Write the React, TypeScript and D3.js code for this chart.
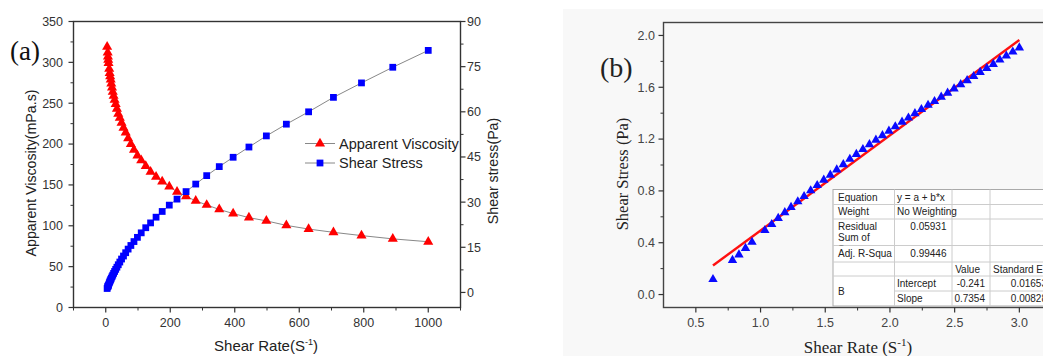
import React from "react";
import * as d3 from "d3";

// ---------- Data ----------
const shearRate = [
  4.29, 6.07, 6.81, 7.65, 8.59,
  10.8, 12.2, 13.7, 15.4, 17.2, 19.4, 21.7, 24.4, 27.4, 30.8,
  34.6, 38.8, 43.6, 49.0, 55.0, 61.8, 69.4, 77.9, 87.5, 98.2,
  110, 124, 139, 156, 175, 197, 221, 249, 279, 313,
  352, 395, 444, 498, 560, 629, 706, 793, 890, 1000,
];
const viscosity = [
  319, 312, 307, 303, 299,
  292, 287, 283, 279, 274, 269, 264, 259, 254, 249,
  243, 237, 232, 226, 220, 214, 207, 200, 193, 186,
  180, 173, 166, 160, 154, 148, 141.5, 136, 130.5, 125.5,
  120, 115, 110, 106, 100.5, 96, 92, 88, 84, 80.5,
];
const shearStress = [
  1.31, 1.84, 2.03, 2.28, 2.54,
  3.13, 3.48, 3.88, 4.3, 4.72, 5.22, 5.73, 6.34, 6.97, 7.67,
  8.38, 9.2, 10.1, 11.1, 12.1, 13.2, 14.4, 15.6, 16.9, 18.3,
  19.8, 21.5, 23.1, 25.0, 26.9, 29.0, 31.0, 33.5, 36.0, 38.8,
  41.8, 44.9, 48.3, 52.0, 55.9, 60.0, 64.8, 69.6, 74.8, 80.4,
];
const fitIntercept = -0.241;
const fitSlope = 0.7354;

// tick labels
const aXTicks = [0, 200, 400, 600, 800, 1000];
const aXMinor = [-100, 100, 300, 500, 700, 900, 1100];
const aYLTicks = [0, 50, 100, 150, 200, 250, 300, 350];
const aYLMinor = [25, 75, 125, 175, 225, 275, 325];
const aYRTicks = [0, 15, 30, 45, 60, 75, 90];
const aYRMinor = [7.5, 22.5, 37.5, 52.5, 67.5, 82.5];
const bXTicks = [0.5, 1.0, 1.5, 2.0, 2.5, 3.0];
const bXMinor = [0.75, 1.25, 1.75, 2.25, 2.75];
const bYTicks = [0.0, 0.4, 0.8, 1.2, 1.6, 2.0];
const bYMinor = [0.2, 0.6, 1.0, 1.4, 1.8];

const legendItems = ["Apparent Viscosity", "Shear Stress"];

const tableRows = [
  ["Equation", "y = a + b*x", "", ""],
  ["Weight", "No Weighting", "", ""],
  ["Residual|Sum of|Squares", "0.05931", "", ""],
  ["Adj. R-Squa", "0.99446", "", ""],
  ["", "", "Value", "Standard Err"],
  ["B", "Intercept", "-0.241", "0.01653"],
  ["", "Slope", "0.7354", "0.00828"],
];

const SANS = "Arial, 'Liberation Sans', sans-serif";
const SERIF = "'Times New Roman', 'Liberation Serif', serif";
const AXC = "#333";

export default function App() {
  const W = 1043, H = 356;

  // Panel (a)
  const ax = d3.scaleLinear().domain([-100, 1100]).range([73.5, 460.5]);
  const ayL = d3.scaleLinear().domain([0, 350]).range([307.5, 21.5]);
  const ayR = d3.scaleLinear().domain([-5, 90]).range([307.5, 21.5]);

  // Panel (b)
  const bx = d3.scaleLinear().domain([0.25, 3.25]).range([663.5, 1051.7]);
  const by = d3.scaleLinear().domain([-0.1, 2.1]).range([307.5, 22.5]);

  const pts = shearRate.map((r, i) => ({ r, v: viscosity[i], s: shearStress[i] }));
  const lineV = d3.line<any>().x((d) => ax(d.r)).y((d) => ayL(d.v))(pts) || "";
  const lineS = d3.line<any>().x((d) => ax(d.r)).y((d) => ayR(d.s))(pts) || "";
  const tri = d3.symbol().type(d3.symbolTriangle).size(44)() || "";
  const sq = d3.symbol().type(d3.symbolSquare).size(46)() || "";
  const triB = d3.symbol().type(d3.symbolTriangle).size(38)() || "";

  const logPts = pts.map((p) => ({ x: Math.log10(p.r), y: Math.log10(p.s) }));
  const xExt = d3.extent(logPts, (d) => d.x) as [number, number];
  const fitPath = d3.line<number>().x((x) => bx(x)).y((x) => by(fitIntercept + fitSlope * x))(xExt) || "";

  // table geometry
  const tRowY = [189.5, 204.5, 219, 245.5, 262, 276, 291, 306];
  const tColX = [833, 894.5, 952, 990, 1058];

  return (
    <svg width={W} height={H} style={{ position: "absolute", left: 0, top: 0, background: "#fff" }}
      fontFamily={SANS}>
      <defs>
        <clipPath id="resid">
          <rect x={tColX[0]} y={tRowY[2]} width={tColX[1] - tColX[0]} height={tRowY[3] - tRowY[2]} />
        </clipPath>
      </defs>
      <rect x={0} y={0} width={W} height={H} fill="#fff" />

      {/* ================= Panel (a) ================= */}
      <text x={10} y={60} fontFamily={SERIF} fontSize={27} fill="#111">(a)</text>
      <rect x={ax(-100)} y={ayL(350)} width={ax(1100) - ax(-100)} height={ayL(0) - ayL(350)}
        fill="none" stroke={AXC} strokeWidth={1.4} />
      {aYLTicks.map((t) => (
        <g key={"yl" + t}>
          <line x1={ax(-100) - 5} x2={ax(-100)} y1={ayL(t)} y2={ayL(t)} stroke={AXC} strokeWidth={1.2} />
          <text x={63} y={ayL(t)} dy="0.35em" textAnchor="end" fontSize={12.5} fill="#333">{t}</text>
        </g>
      ))}
      {aYLMinor.map((t) => (
        <line key={"ylm" + t} x1={ax(-100) - 3} x2={ax(-100)} y1={ayL(t)} y2={ayL(t)} stroke={AXC} strokeWidth={1} />
      ))}
      {aYRTicks.map((t) => (
        <g key={"yr" + t}>
          <line x1={ax(1100)} x2={ax(1100) + 5} y1={ayR(t)} y2={ayR(t)} stroke={AXC} strokeWidth={1.2} />
          <text x={467} y={ayR(t)} dy="0.35em" textAnchor="start" fontSize={12.5} fill="#333">{t}</text>
        </g>
      ))}
      {aYRMinor.map((t) => (
        <line key={"yrm" + t} x1={ax(1100)} x2={ax(1100) + 3} y1={ayR(t)} y2={ayR(t)} stroke={AXC} strokeWidth={1} />
      ))}
      {aXTicks.map((t) => (
        <g key={"xa" + t}>
          <line x1={ax(t)} x2={ax(t)} y1={ayL(0)} y2={ayL(0) + 5} stroke={AXC} strokeWidth={1.2} />
          <text x={ax(t)} y={327} textAnchor="middle" fontSize={12.5} fill="#333">{t}</text>
        </g>
      ))}
      {aXMinor.map((t) => (
        <line key={"xam" + t} x1={ax(t)} x2={ax(t)} y1={ayL(0)} y2={ayL(0) + 3} stroke={AXC} strokeWidth={1} />
      ))}
      <text transform={`translate(36,173) rotate(-90)`} textAnchor="middle" fontSize={14.2} fill="#222">
        Apparent Viscosity(mPa.s)
      </text>
      <text transform={`translate(498,171) rotate(-90)`} textAnchor="middle" fontSize={14.2} fill="#222">
        Shear stress(Pa)
      </text>
      <text x={266} y={351} textAnchor="middle" fontSize={15} fill="#222">
        Shear Rate(S<tspan dy={-6} fontSize={9}>-1</tspan><tspan dy={6}>)</tspan>
      </text>

      <path d={lineV} fill="none" stroke="#888" strokeWidth={1} />
      <path d={lineS} fill="none" stroke="#888" strokeWidth={1} />
      {pts.map((p, i) => (
        <path key={"v" + i} d={tri} transform={`translate(${ax(p.r)},${ayL(p.v)})`} fill="#ff0000" />
      ))}
      {pts.map((p, i) => (
        <path key={"s" + i} d={sq} transform={`translate(${ax(p.r)},${ayR(p.s)})`} fill="#0000ff" />
      ))}

      {legendItems.map((name, i) => {
        const y = 143.5 + i * 19.5;
        return (
          <g key={name}>
            <line x1={305} x2={335} y1={y} y2={y} stroke="#888" strokeWidth={1} />
            <path d={i === 0 ? tri : sq} transform={`translate(320,${y})`} fill={i === 0 ? "#ff0000" : "#0000ff"} />
            <text x={339} y={y} dy="0.35em" fontSize={14.5} fill="#222">{name}</text>
          </g>
        );
      })}

      {/* ================= Panel (b) ================= */}
      <rect x={563} y={9} width={W - 563} height={H - 9} fill="#f8f8f8" />
      <text x={600} y={77} fontFamily={SERIF} fontSize={28} fill="#222">(b)</text>
      <rect x={bx(0.25)} y={by(2.1)} width={bx(3.25) - bx(0.25)} height={by(-0.1) - by(2.1)}
        fill="none" stroke="#444" strokeWidth={1.4} />
      {bYTicks.map((t) => (
        <g key={"by" + t}>
          <line x1={bx(0.25) - 5} x2={bx(0.25)} y1={by(t)} y2={by(t)} stroke={AXC} strokeWidth={1.2} />
          <text x={655} y={by(t)} dy="0.35em" textAnchor="end" fontSize={12.5} fill="#444">{t.toFixed(1)}</text>
        </g>
      ))}
      {bYMinor.map((t) => (
        <line key={"bym" + t} x1={bx(0.25) - 3} x2={bx(0.25)} y1={by(t)} y2={by(t)} stroke={AXC} strokeWidth={1} />
      ))}
      {bXTicks.map((t) => (
        <g key={"bx" + t}>
          <line x1={bx(t)} x2={bx(t)} y1={by(-0.1)} y2={by(-0.1) + 5} stroke={AXC} strokeWidth={1.2} />
          <text x={bx(t)} y={327} textAnchor="middle" fontSize={12.5} fill="#444">{t.toFixed(1)}</text>
        </g>
      ))}
      {bXMinor.map((t) => (
        <line key={"bxm" + t} x1={bx(t)} x2={bx(t)} y1={by(-0.1)} y2={by(-0.1) + 3} stroke={AXC} strokeWidth={1} />
      ))}
      <text transform={`translate(628,174) rotate(-90)`} textAnchor="middle" fontFamily={SERIF} fontSize={16.5} fill="#222">
        Shear Stress (Pa)
      </text>
      <text x={858} y={353} textAnchor="middle" fontFamily={SERIF} fontSize={17} fill="#222">
        Shear Rate (S<tspan dy={-7} fontSize={11}>-1</tspan><tspan dy={7}>)</tspan>
      </text>

      <path d={fitPath} fill="none" stroke="#ff1010" strokeWidth={2.4} />
      {logPts.map((p, i) => (
        <path key={"b" + i} d={triB} transform={`translate(${bx(p.x)},${by(p.y)})`} fill="#0a0aff" />
      ))}

      {/* fit table */}
      <g fontSize={10} fill="#222">
        <rect x={tColX[0]} y={tRowY[0]} width={tColX[4] - tColX[0]} height={tRowY[7] - tRowY[0]} fill="#fff" stroke="#aaa" strokeWidth={1} />
        {tRowY.slice(1, 7).map((y, i) => (
          <line key={"tr" + i} x1={i === 5 ? tColX[1] : tColX[0]} x2={tColX[4]} y1={y} y2={y} stroke="#ccc" strokeWidth={1} />
        ))}
        {tColX.slice(1, 4).map((x, i) => (
          <line key={"tc" + i} x1={x} x2={x} y1={tRowY[0]} y2={tRowY[7]} stroke="#ccc" strokeWidth={1} />
        ))}
        {tableRows.map((row, ri) => {
          const yc = (tRowY[ri] + tRowY[ri + 1]) / 2;
          return (
            <g key={"row" + ri}>
              {ri === 2 ? (
                <g clipPath="url(#resid)">
                  {row[0].split("|").map((s, k) => (
                    <text key={k} x={838} y={226 + k * 11.5} dy="0.35em">{s}</text>
                  ))}
                </g>
              ) : ri === 5 ? (
                <text x={838} y={(tRowY[5] + tRowY[7]) / 2} dy="0.35em">{row[0]}</text>
              ) : (
                <text x={838} y={yc} dy="0.35em">{row[0]}</text>
              )}
              {ri === 2 || ri === 3 ? (
                <text x={946.5} y={ri === 2 ? 226 : yc} dy="0.35em" textAnchor="end">{row[1]}</text>
              ) : (
                <text x={897} y={yc} dy="0.35em">{row[1]}</text>
              )}
              {row[2] && (
                <text x={ri === 4 ? 980 : 985} y={yc} dy="0.35em" textAnchor="end">{row[2]}</text>
              )}
              {row[3] && (
                ri === 4 ? (
                  <text x={993} y={yc} dy="0.35em">{row[3]}</text>
                ) : (
                  <text x={1047} y={yc} dy="0.35em" textAnchor="end">{row[3]}</text>
                )
              )}
            </g>
          );
        })}
      </g>
    </svg>
  );
}
